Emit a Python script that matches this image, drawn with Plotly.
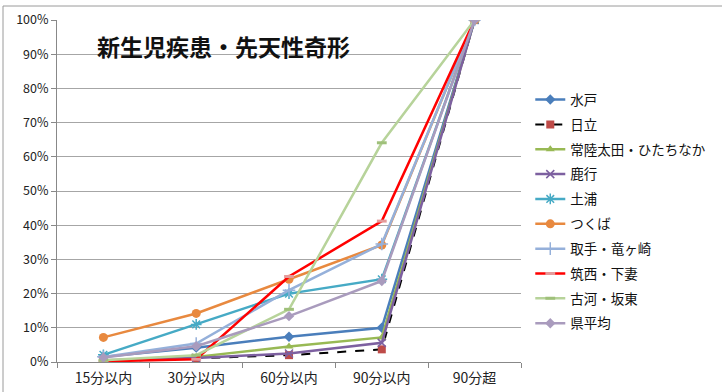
import plotly.graph_objects as go

categories = ["15分以内", "30分以内", "60分以内", "90分以内", "90分超"]

mito = [0.015, 0.042, 0.074, 0.100, 1.0]
hitachi = [0.002, 0.010, 0.020, 0.037, 1.0]
hitachiota = [0.002, 0.015, 0.045, 0.072, 1.0]
rokko = [0.005, 0.012, 0.025, 0.056, 1.0]
tsuchiura = [0.021, 0.110, 0.200, 0.242, 1.0]
tsukuba = [0.072, 0.142, 0.242, 0.342, 1.0]
toride = [0.015, 0.054, 0.210, 0.345, 1.0]
chikusei = [0.002, 0.008, 0.250, 0.412, 1.0]
koga = [0.005, 0.020, 0.154, 0.641, 1.0]
average = [0.013, 0.046, 0.134, 0.237, 1.0]

series = [
    ("水戸", mito, dict(color="#4A7EBB", width=2.5), dict(symbol="diamond", size=8, color="#4A7EBB")),
    ("日立", hitachi, dict(color="#000000", width=2, dash="dash"), dict(symbol="square", size=8, color="#BE4B48")),
    ("常陸太田・ひたちなか", hitachiota, dict(color="#98B954", width=2.5), dict(symbol="triangle-up", size=8, color="#98B954")),
    ("鹿行", rokko, dict(color="#7D60A0", width=2.5), dict(symbol="x-thin-open", size=8, color="#7D60A0", line=dict(width=1.5, color="#7D60A0"))),
    ("土浦", tsuchiura, dict(color="#46AAC5", width=2.5), dict(symbol="asterisk-open", size=9, color="#46AAC5", line=dict(width=1.5, color="#46AAC5"))),
    ("つくば", tsukuba, dict(color="#E8893F", width=2.5), dict(symbol="circle", size=9, color="#E8893F")),
    ("取手・竜ヶ崎", toride, dict(color="#95B0DA", width=2.5), dict(symbol="cross-thin-open", size=9, color="#95B0DA", line=dict(width=1.5, color="#95B0DA"))),
    ("筑西・下妻", chikusei, dict(color="#FF0000", width=2.5), dict(symbol="line-ew-open", size=7, color="#E59A9A", line=dict(width=3, color="#E59A9A"))),
    ("古河・坂東", koga, dict(color="#B7D39A", width=2.5), dict(symbol="line-ew-open", size=7, color="#9FC07A", line=dict(width=3, color="#9FC07A"))),
    ("県平均", average, dict(color="#A99BBD", width=2.5), dict(symbol="diamond", size=8, color="#A99BBD")),
]

fig = go.Figure()
for i, (name, vals, line, marker) in enumerate(series):
    fig.add_trace(go.Scatter(
        x=categories, y=vals, name=name, mode="lines+markers",
        line=line, marker=marker, legendgroup=f"g{i}",
    ))

# plot area in pixels: x 57..521, y 20..362
PW, PH = 464, 342

fig.update_layout(
    width=722, height=392,
    margin=dict(l=57, r=201, t=20, b=30, autoexpand=False),
    paper_bgcolor="white", plot_bgcolor="white",
    font=dict(family="Noto Sans CJK JP", size=12, color="#222222"),
    showlegend=True,
    legend=dict(
        x=1.02, xanchor="left", y=0.812, yanchor="top",
        font=dict(size=13.5, color="#111111"),
        tracegroupgap=4.3, itemwidth=30,
        bgcolor="rgba(0,0,0,0)",
    ),
    annotations=[dict(
        text="<b>新生児疾患・先天性奇形</b>",
        x=(95 - 57) / PW, y=(362 - 46) / PH, xref="paper", yref="paper",
        showarrow=False, font=dict(size=23, color="#111111"),
        xanchor="left", yanchor="middle",
    )],
    shapes=[dict(
        type="rect", xref="paper", yref="paper",
        x0=-54 / PW, x1=(730 - 57) / PW, y0=-40 / PH, y1=(362 - 6) / PH,
        line=dict(color="#9a9a9a", width=1), fillcolor="rgba(0,0,0,0)",
    )],
)

fig.update_xaxes(
    type="category", range=[-0.5, 4.5], tickson="boundaries",
    ticks="outside", ticklen=5, tickcolor="#888888",
    showline=True, linecolor="#888888", linewidth=1,
    showgrid=False, tickfont=dict(size=14), ticklabelstandoff=3,
    automargin=False,
)
fig.update_yaxes(
    range=[0, 1], dtick=0.1, tickformat=".0%",
    ticks="outside", ticklen=5, tickcolor="#888888",
    showline=True, linecolor="#888888", linewidth=1,
    showgrid=True, gridcolor="#a6a6a6", gridwidth=1,
    zeroline=False, tickfont=dict(size=12.5),
    automargin=False,
)

fig.write_html("out.html")
